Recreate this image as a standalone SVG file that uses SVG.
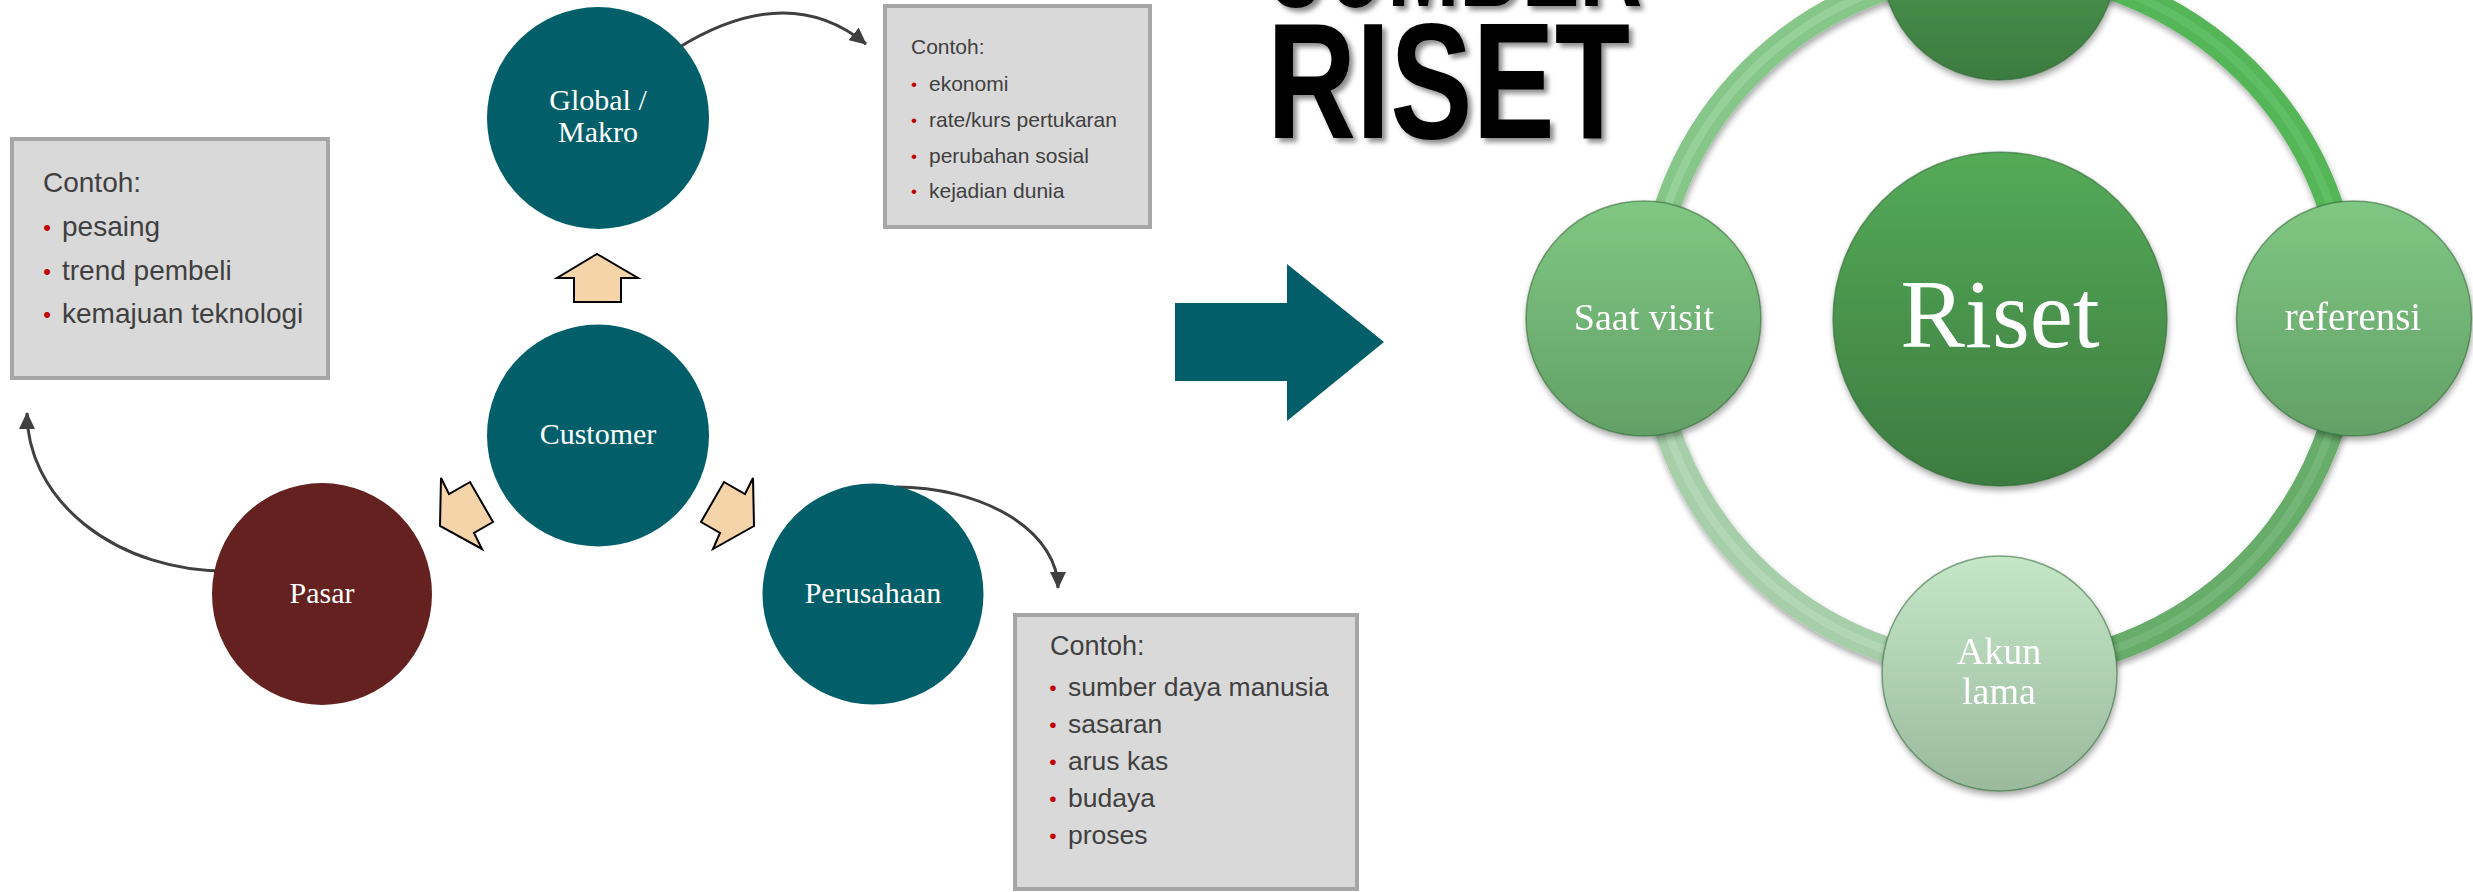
<svg xmlns="http://www.w3.org/2000/svg" width="2473" height="892" viewBox="0 0 2473 892">
<defs>
<style>
.box{fill:#d9d9d9;stroke:#a6a6a6;stroke-width:4}
.bt{font-family:"Liberation Sans",Arial,sans-serif;fill:#404040}
.bul{font-family:"Liberation Sans",Arial,sans-serif;fill:#c00000;text-anchor:middle}
.teal{fill:#025f6a}
.lbl{font-family:"Liberation Serif","Times New Roman",serif;fill:#ffffff;font-size:30px;text-anchor:middle}
.rl{font-family:"Liberation Serif","Times New Roman",serif;fill:#ffffff;text-anchor:middle;font-size:38px}
.blk{fill:#f6d4a9;stroke:#000000;stroke-width:2;stroke-linejoin:miter}
.conn{fill:none;stroke:#404040;stroke-width:3}
.title{font-family:"Liberation Sans",Arial,sans-serif;font-weight:bold;font-size:165px;fill:#000000}
.ringo{fill:none;stroke-width:26}
.ringi{fill:none;stroke-width:8;opacity:0.4}
.nd{stroke:#2e6531;stroke-width:1.5;stroke-opacity:0.55}
</style>
<marker id="ah" markerUnits="userSpaceOnUse" markerWidth="17" markerHeight="16" viewBox="0 0 17 16" refX="16" refY="8" orient="auto"><path d="M0,0 L17,8 L0,16 z" fill="#404040"/></marker>
<filter id="sh" x="-20%" y="-20%" width="140%" height="140%"><feDropShadow dx="1" dy="4" stdDeviation="3" flood-color="#000" flood-opacity="0.35"/></filter>
<filter id="tsh" x="-10%" y="-10%" width="120%" height="130%"><feDropShadow dx="4" dy="4" stdDeviation="2.5" flood-color="#000" flood-opacity="0.45"/></filter>
<linearGradient id="gDark" x1="0" y1="0" x2="0" y2="1"><stop offset="0" stop-color="#54aa58"/><stop offset="1" stop-color="#3d7b40"/></linearGradient>
<linearGradient id="gMid" x1="0" y1="0" x2="0" y2="1"><stop offset="0" stop-color="#80c783"/><stop offset="1" stop-color="#63a066"/></linearGradient>
<linearGradient id="gLight" x1="0" y1="0" x2="0" y2="1"><stop offset="0" stop-color="#c6e6c8"/><stop offset="1" stop-color="#9bba9d"/></linearGradient>
</defs>
<rect x="0" y="0" width="2473" height="892" fill="#ffffff"/>

<g id="title">
<text class="title" x="1267" y="6" textLength="375" lengthAdjust="spacingAndGlyphs" filter="url(#tsh)">SUMBER</text>
<text class="title" x="1267" y="138" textLength="363" lengthAdjust="spacingAndGlyphs" filter="url(#tsh)">RISET</text>
</g>

<g id="connectors">
<path class="conn" d="M678,48 Q788,-20 866,44" marker-end="url(#ah)"/>
<path class="conn" d="M225,571 A198,158 0 0 1 27,413" marker-end="url(#ah)"/>
<path class="conn" d="M896,487 A162,101 0 0 1 1058,588" marker-end="url(#ah)"/>
<polygon id="arrow-up" class="blk" points="597,254 638,278 621,278 621,302 574,302 574,278 557,278"/>
<polygon id="arrow-left" class="blk" points="441,478 449,494 470,482 493,522 474,533 482,549 440,526"/>
<polygon id="arrow-right" class="blk" points="753,478 745,494 724,482 701,522 720,533 713,549 754,526"/>
<polygon id="arrow-big" class="teal" points="1175,303 1287,303 1287,264 1384,342 1287,421 1287,381 1175,381"/>
<g id="ring" filter="url(#sh)">
<path class="ringo" stroke="#86c689" d="M1649,318.5 A350,350 0 0 1 1999,-31.5"/>
<path class="ringi" stroke="#b2e0b4" d="M1649,318.5 A350,350 0 0 1 1999,-31.5"/>
<path class="ringo" stroke="#55b659" d="M1999,-31.5 A350,350 0 0 1 2349,318.5"/>
<path class="ringi" stroke="#74cc78" d="M1999,-31.5 A350,350 0 0 1 2349,318.5"/>
<path class="ringo" stroke="#68ac6b" d="M2349,318.5 A350,350 0 0 1 1999,668.5"/>
<path class="ringi" stroke="#88c68b" d="M2349,318.5 A350,350 0 0 1 1999,668.5"/>
<path class="ringo" stroke="#a6cea8" d="M1999,668.5 A350,350 0 0 1 1649,318.5"/>
<path class="ringi" stroke="#c8e6c9" d="M1999,668.5 A350,350 0 0 1 1649,318.5"/>
</g>
</g>

<g id="box-global">
<rect class="box" x="885" y="6" width="265" height="221"/>
<text class="bt" x="911" y="54" font-size="21">Contoh:</text>
<text class="bul" x="914" y="90" font-size="17">•</text>
<text class="bul" x="914" y="126" font-size="17">•</text>
<text class="bul" x="914" y="162" font-size="17">•</text>
<text class="bul" x="914" y="197" font-size="17">•</text>
<text class="bt" x="929" y="91" font-size="21">ekonomi</text>
<text class="bt" x="929" y="127" font-size="21">rate/kurs pertukaran</text>
<text class="bt" x="929" y="163" font-size="21">perubahan sosial</text>
<text class="bt" x="929" y="198" font-size="21">kejadian dunia</text>
</g>

<g id="box-pasar">
<rect class="box" x="12" y="139" width="316" height="239"/>
<text class="bt" x="43" y="192" font-size="28">Contoh:</text>
<text class="bul" x="47" y="235" font-size="22">•</text>
<text class="bul" x="47" y="279" font-size="22">•</text>
<text class="bul" x="47" y="322" font-size="22">•</text>
<text class="bt" x="62" y="236" font-size="28">pesaing</text>
<text class="bt" x="62" y="280" font-size="28">trend pembeli</text>
<text class="bt" x="62" y="323" font-size="28">kemajuan teknologi</text>
</g>

<g id="box-perusahaan">
<rect class="box" x="1015" y="615" width="342" height="274"/>
<text class="bt" x="1050" y="655" font-size="27">Contoh:</text>
<text class="bul" x="1053" y="695" font-size="21">•</text>
<text class="bul" x="1053" y="732" font-size="21">•</text>
<text class="bul" x="1053" y="769" font-size="21">•</text>
<text class="bul" x="1053" y="806" font-size="21">•</text>
<text class="bul" x="1053" y="843" font-size="21">•</text>
<text class="bt" x="1068" y="696" font-size="26.5">sumber daya manusia</text>
<text class="bt" x="1068" y="733" font-size="26.5">sasaran</text>
<text class="bt" x="1068" y="770" font-size="26.5">arus kas</text>
<text class="bt" x="1068" y="807" font-size="26.5">budaya</text>
<text class="bt" x="1068" y="844" font-size="26.5">proses</text>
</g>

<g id="node-global">
<circle class="teal" cx="598" cy="118" r="111"/>
<text class="lbl" x="598" y="110">Global /</text>
<text class="lbl" x="598" y="142">Makro</text>
</g>
<g id="node-customer">
<circle class="teal" cx="598" cy="435.5" r="111"/>
<text class="lbl" x="598" y="444">Customer</text>
</g>
<g id="node-pasar">
<ellipse cx="322" cy="594" rx="110" ry="111" fill="#652020"/>
<text class="lbl" x="322" y="603">Pasar</text>
</g>
<g id="node-perusahaan">
<circle class="teal" cx="873" cy="594" r="110.5"/>
<text class="lbl" x="873" y="603">Perusahaan</text>
</g>

<g id="node-top" filter="url(#sh)">
<circle class="nd" cx="1999" cy="-37" r="117" fill="url(#gDark)"/>
</g>
<g id="node-riset" filter="url(#sh)">
<circle class="nd" cx="2000" cy="319" r="167" fill="url(#gDark)"/>
<text class="rl" x="2000" y="347" style="font-size:97px">Riset</text>
</g>
<g id="node-saat-visit" filter="url(#sh)">
<circle class="nd" cx="1643.5" cy="318.5" r="117.5" fill="url(#gMid)"/>
<text class="rl" x="1644" y="330">Saat visit</text>
</g>
<g id="node-referensi" filter="url(#sh)">
<circle class="nd" cx="2354" cy="318.5" r="117.5" fill="url(#gMid)"/>
<text class="rl" x="2353" y="330" style="font-size:39px">referensi</text>
</g>
<g id="node-akun-lama" filter="url(#sh)">
<circle class="nd" cx="1999.5" cy="673.5" r="117.5" fill="url(#gLight)"/>
<text class="rl" x="1999" y="664">Akun</text>
<text class="rl" x="1999" y="704">lama</text>
</g>
</svg>
